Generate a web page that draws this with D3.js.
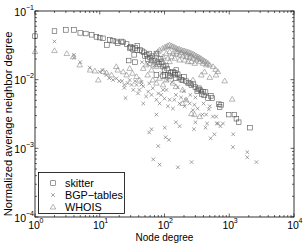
<!DOCTYPE html>
<html>
<head>
<meta charset="utf-8">
<script src="https://cdn.jsdelivr.net/npm/d3@7"></script>
<style>
body { margin: 0; background: #fff; }
svg { display: block; font-family: "Liberation Sans", Arial, sans-serif; }
</style>
</head>
<body>
<svg id="chart" width="305" height="244"></svg>
<script>
'use strict';

// [node degree, normalized average neighbor degree]
var skitter = [
    [1,0.043],[2,0.051],[3,0.053],[4,0.053],[5,0.048],[6.1,0.047],[7.5,0.045],[8.9,0.042],
    [10,0.041],[11.2,0.040],[12.9,0.032],[14.3,0.038],[16,0.037],[18,0.036],[19,0.034],
    [21.7,0.036],[23,0.035],[26,0.033],[29,0.029],[30,0.030],[32,0.028],[35,0.029],[38,0.027],
    [38,0.031],[42,0.027],[28,0.019],[34,0.023],[35,0.018],[45,0.026],[48,0.025],[50,0.022],
    [53,0.023],[55,0.020],[58,0.024],[60,0.021],[63,0.019],[65,0.022],[70,0.019],[75,0.024],
    [78,0.018],[83,0.017],[87,0.020],[90,0.018],[95,0.0155],[100,0.0138],[105,0.016],
    [110,0.0145],[113,0.0117],[120,0.0113],[125,0.0125],[135,0.013],[145,0.0118],[150,0.0105],
    [160,0.012],[170,0.0108],[182,0.010],[190,0.0098],[200,0.011],[215,0.0095],[235,0.009],
    [250,0.0088],[260,0.0083],[280,0.0086],[300,0.0078],[320,0.0068],[330,0.0072],[340,0.0075],
    [360,0.007],[375,0.0062],[393,0.0067],[410,0.0059],[430,0.0066],[470,0.0054],[520,0.0058],
    [545,0.0054],[690,0.0044],[750,0.0043],[710,0.004],[980,0.0031],[1200,0.0031],
    [1290,0.0027],[1400,0.0024],[2090,0.002],
    [75,0.0117],[95,0.0112],[101,0.0117],[144,0.0126],[152,0.0138]
];

var bgp = [
    [2,0.036],[4,0.023],[4,0.021],[5,0.018],[7,0.015],[10,0.013],[11,0.0138],[12.7,0.0117],
    [14,0.0105],[16,0.0099],[18,0.0104],[20,0.0095],[22,0.0095],[24,0.0084],[24,0.0076],
    [25,0.0054],[27,0.0089],[29,0.0099],[31,0.0084],[33,0.0071],[35,0.0095],[37,0.0084],
    [39,0.0063],[41,0.0071],[44,0.0093],[44,0.0085],[45,0.018],[47,0.008],[47,0.0045],
    [52,0.0057],[55,0.017],[56,0.0067],[58,0.0088],[62,0.021],[63,0.006],[66,0.0075],
    [70,0.016],[75,0.0051],[75,0.0031],[80,0.0063],[84,0.0045],[89,0.006],[90,0.0125],
    [95,0.0071],[100,0.0053],[107,0.0071],[110,0.0098],[113,0.0041],[120,0.0051],[130,0.0092],
    [135,0.0038],[142,0.0051],[150,0.006],[160,0.0078],[170,0.0045],[180,0.0055],[200,0.0068],
    [205,0.0041],[215,0.0051],[245,0.0045],[250,0.006],[275,0.0036],[290,0.0043],[300,0.0055],
    [325,0.0038],[385,0.0031],[400,0.0045],[440,0.0031],[485,0.0037],[500,0.0041],[560,0.0029],
    [630,0.0029],[670,0.0023],[800,0.0023],
    [58,0.0017],[63,0.0019],[101,0.0020],[150,0.0024],[171,0.0021],[301,0.0024],[285,0.0019],
    [454,0.0023],[430,0.002],[640,0.0023],[730,0.0021],[590,0.0016],[104,0.00145],[117,0.00133],
    [80,0.00108],[516,0.0014],[1150,0.0016],[1140,0.00104],[1900,0.00088],[1900,0.00074],
    [2630,0.00063],[67,0.00069],[84,0.00058],[161,0.00053],[262,0.00063]
];

var whois = [
    [1,0.0256],[2,0.0265],[3.1,0.024],[3.9,0.0216],[4.9,0.0164],[7.1,0.0138],[8.4,0.0134],
    [9.5,0.0099],[11.3,0.0132],[12.7,0.0126],[15.2,0.0117],[18,0.0155],[19,0.0138],[23,0.013],
    [26,0.0117],[29,0.0146],[32,0.0124],[37,0.0111],[41,0.0099],[47,0.0146],[52,0.0164],
    [55,0.0117],[63,0.0138],[66,0.0099],[75,0.0089],[84,0.0105],[95,0.0084],[107,0.0099],
    [120,0.011],[135,0.0089],[150,0.0079],[170,0.0105],[190,0.0045],[215,0.0051],[260,0.0032],
    [290,0.0031],[350,0.0029],[370,0.0117],[415,0.013],[500,0.0108],[625,0.0117],[190,0.0071],
    [230,0.0089],[275,0.0099],[850,0.0096],[1110,0.0052],
    [59,0.0173],[63,0.0193],[67,0.0202],[71,0.0229],[75,0.0242],[79,0.0256],[84,0.027],
    [93,0.0286],[101,0.0296],[107,0.0303],[113,0.0313],[120,0.032],[128,0.031],[135,0.0303],
    [144,0.0296],[152,0.0286],[162,0.028],[171,0.0277],[182,0.027],[193,0.0264],[205,0.0262],
    [217,0.0256],[231,0.0253],[244,0.0247],[259,0.0242],[275,0.0236],[292,0.0229],[310,0.0221],
    [329,0.0216],[349,0.0209],[370,0.0202],[393,0.0193],[416,0.0187],[442,0.0181],[469,0.0173],
    [497,0.0164],[560,0.0155],[615,0.0141],[668,0.0131],
    [67,0.0164],[75,0.0183],[84,0.0205],[95,0.0216],[107,0.0242],[120,0.0256],[135,0.0242],
    [152,0.0236],[171,0.0229],[193,0.0221],[217,0.0216],[244,0.0211],[275,0.0205],[310,0.0193],
    [349,0.0183],[393,0.0173],[442,0.0164],[95,0.0183],[113,0.0205],[128,0.0216],[144,0.0205],
    [171,0.0193],[205,0.0193],[231,0.0183],[259,0.0183],[292,0.0173],[75,0.0155],[84,0.0164],
    [101,0.0164],[120,0.0183],[152,0.0256],[182,0.0247],[217,0.0236],[259,0.0221],[329,0.0201]
];

var xDecades = [0, 1, 2, 3, 4];
var yDecades = [-4, -3, -2, -1];
var legendNames = ["skitter", "BGP\u2212tables", "WHOIS"];

var W = 305, H = 244;
var margin = {top: 11, right: 11, bottom: 27, left: 35};

var svg = d3.select("#chart");
var xScale = d3.scaleLog().domain([1, 1e4]).range([margin.left, W - margin.right]),
    yScale = d3.scaleLog().domain([1e-4, 1e-1]).range([H - margin.bottom, margin.top]);

var x0 = margin.left, x1 = W - margin.right,
    y0 = margin.top, y1 = H - margin.bottom;

// minor + major ticks, inward, on all four sides
function minors(lo, hi) {
    var out = [];
    for (var e = lo; e < hi; e++) {
        for (var m = 2; m <= 9; m++) out.push(m * Math.pow(10, e));
    }
    return out;
}
var tickG = svg.append("g").attr("stroke", "#000").attr("stroke-width", 0.6);
minors(0, 4).forEach(function(v){
    var x = xScale(v);
    tickG.append("line").attr("x1", x).attr("x2", x).attr("y1", y1).attr("y2", y1 - 2);
    tickG.append("line").attr("x1", x).attr("x2", x).attr("y1", y0).attr("y2", y0 + 2);
});
xDecades.forEach(function(e){
    var x = xScale(Math.pow(10, e));
    tickG.append("line").attr("x1", x).attr("x2", x).attr("y1", y1).attr("y2", y1 - 3.5);
    tickG.append("line").attr("x1", x).attr("x2", x).attr("y1", y0).attr("y2", y0 + 3.5);
});
minors(-4, -1).forEach(function(v){
    var y = yScale(v);
    tickG.append("line").attr("x1", x0).attr("x2", x0 + 2).attr("y1", y).attr("y2", y);
    tickG.append("line").attr("x1", x1).attr("x2", x1 - 2).attr("y1", y).attr("y2", y);
});
yDecades.forEach(function(e){
    var y = yScale(Math.pow(10, e));
    tickG.append("line").attr("x1", x0).attr("x2", x0 + 3.5).attr("y1", y).attr("y2", y);
    tickG.append("line").attr("x1", x1).attr("x2", x1 - 3.5).attr("y1", y).attr("y2", y);
});

// tick labels
xDecades.forEach(function(e){
    var x = xScale(Math.pow(10, e));
    svg.append("text").attr("x", x - 1).attr("y", y1 + 12)
        .attr("text-anchor", "middle").attr("font-size", 10.5).text("10");
    svg.append("text").attr("x", x + 4.5).attr("y", y1 + 6)
        .attr("font-size", 7).text(e);
});
yDecades.forEach(function(e){
    var y = yScale(Math.pow(10, e));
    svg.append("text").attr("x", x0 - 9).attr("y", y + 4.5)
        .attr("text-anchor", "end").attr("font-size", 10.5).text("10");
    svg.append("text").attr("x", x0 - 9).attr("y", y - 1.5)
        .attr("font-size", 7).text("\u2212" + Math.abs(e));
});

// axis titles
svg.append("text").attr("x", (x0 + x1) / 2).attr("y", H - 3)
    .attr("text-anchor", "middle").attr("font-size", 10).text("Node degree");
svg.append("text").attr("transform", "translate(11.5,124) rotate(-90)")
    .attr("text-anchor", "middle").attr("font-size", 11.2)
    .text("Normalized average neighbor degree");

// markers
function square(g, x, y) {
    g.append("rect").attr("x", x - 2.3).attr("y", y - 2.3).attr("width", 4.6).attr("height", 4.6);
}
function cross(g, x, y) {
    g.append("path").attr("d", "M" + (x - 1.8) + "," + (y - 1.8) + "L" + (x + 1.8) + "," + (y + 1.8) +
        "M" + (x - 1.8) + "," + (y + 1.8) + "L" + (x + 1.8) + "," + (y - 1.8));
}
function triangle(g, x, y) {
    g.append("path").attr("d", "M" + x + "," + (y - 2.8) + "L" + (x + 2.8) + "," + (y + 2) +
        "L" + (x - 2.8) + "," + (y + 2) + "Z");
}
var series = [
    {data: skitter, draw: square,   color: "#555"},
    {data: bgp,     draw: cross,    color: "#666"},
    {data: whois,   draw: triangle, color: "#888"}
];
series.forEach(function(s){
    var g = svg.append("g").attr("fill", "none").attr("stroke", s.color).attr("stroke-width", 0.6);
    s.data.forEach(function(d){
        s.draw(g, xScale(d[0]), yScale(d[1]));
    });
});

// frame
svg.append("rect").attr("x", x0).attr("y", y0).attr("width", x1 - x0).attr("height", y1 - y0)
    .attr("fill", "none").attr("stroke", "#000").attr("stroke-width", 0.8);

// legend
var lg = svg.append("g");
lg.append("rect").attr("x", 38.5).attr("y", 172.5).attr("width", 86).attr("height", 41)
    .attr("fill", "#fff").attr("stroke", "#000").attr("stroke-width", 0.8);
legendNames.forEach(function(name, i){
    var y = 183 + i * 12;
    var g = lg.append("g").attr("fill", "none").attr("stroke", series[i].color).attr("stroke-width", 0.6);
    series[i].draw(g, 53, y);
    lg.append("text").attr("x", 65).attr("y", y + 4).attr("font-size", 10.8).text(name);
});
</script>
</body>
</html>
